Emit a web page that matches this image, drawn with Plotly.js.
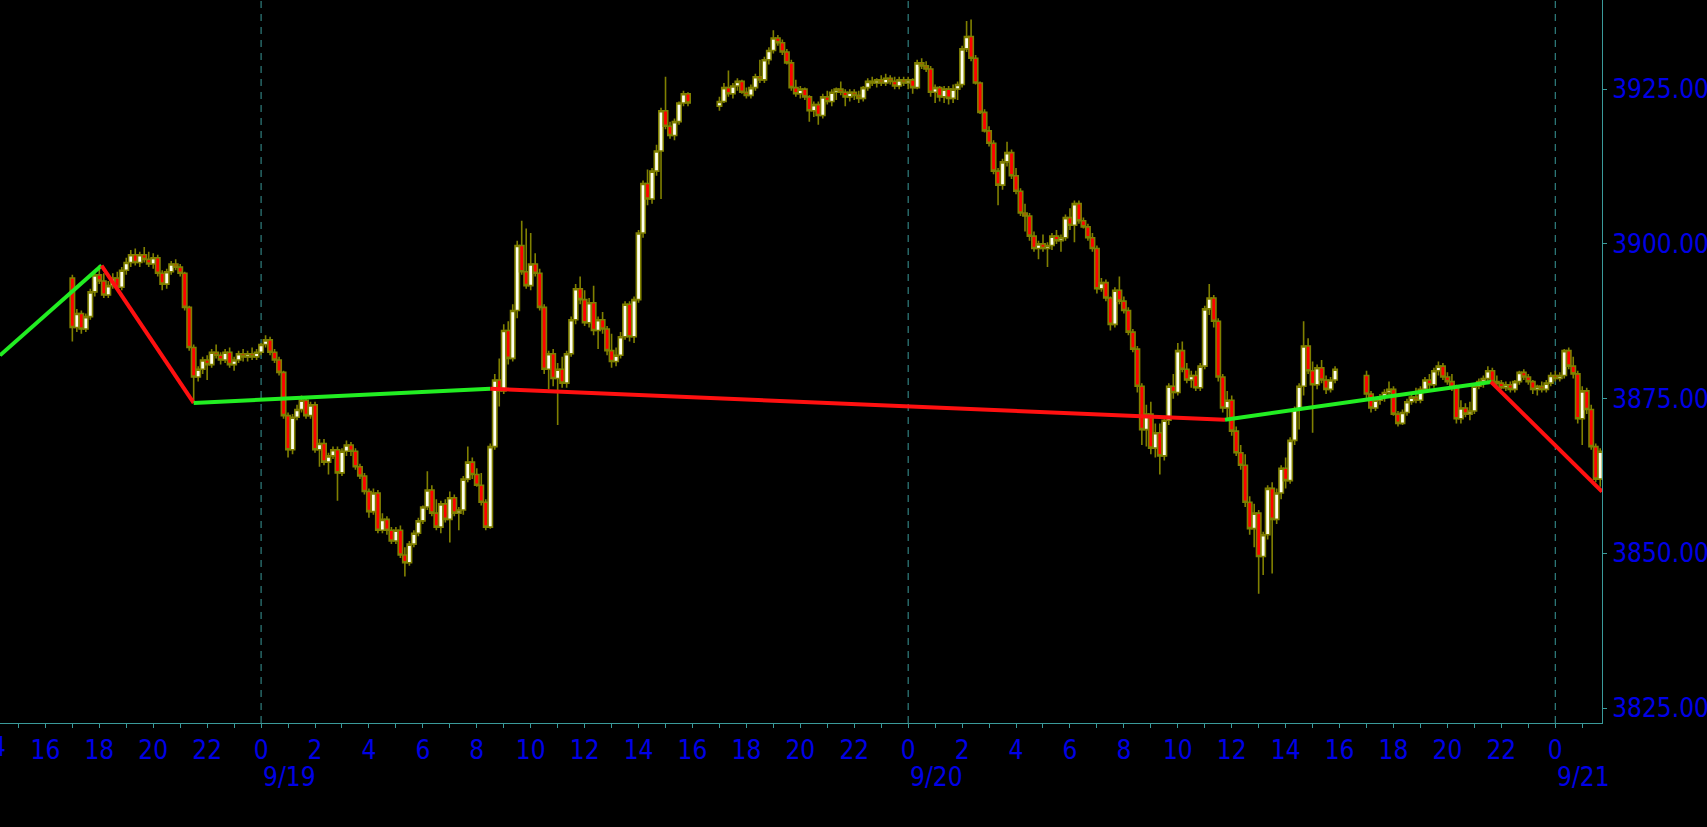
<!DOCTYPE html>
<html>
<head>
<meta charset="utf-8">
<script src="https://cdn.plot.ly/plotly-3.0.1.min.js"></script>
<style>
html,body{margin:0;padding:0;background:#000;overflow:hidden;}
#chart{width:1707px;height:827px;}
</style>
</head>
<body>
<div id="chart"></div>
<script>
// ---- data: 10-minute bars, three trading sessions ----
const sessionStarts = ["2022-09-18T17:00:00Z", "2022-09-19T17:00:00Z", "2022-09-20T17:00:00Z"];

const open1 = [3894.5,3886.5,3888.75,3886.25,3888.25,3892.25,3895.0,3894.0,3891.75,3893.25,3894.5,3893.0,3895.75,3897.0,3898.25,3897.0,3898.25,3897.5,3896.75,3897.75,3895.25,3893.5,3895.5,3896.75,3896.25,3895.25,3889.75,3883.25,3878.5,3879.75,3881.25,3880.5,3882.5,3882.0,3881.25,3882.5,3880.5,3881.25,3882.25,3881.75,3882.25,3881.75,
3882.5,3883.75,3884.5,3882.5,3881.25,3879.25,3872.25,3866.75,3872.0,3873.25,
3874.75,3872.25,3874.0,3866.75,3867.75,3864.75,3865.75,3866.75,3863.0,3866.5,
3867.5,3866.5,3864.0,3862.5,3860.0,3856.75,3859.75,3853.75,3855.5,3853.75,
3852.0,3853.75,3849.75,3848.5,3851.5,3853.25,3855.25,3857.5,3860.25,3856.5,
3854.25,3858.0,3855.5,3859.0,3856.5,3857.0,3862.0,3864.75,3862.75,3861.0,
3858.25,3854.25,3867.25,3878.0,3876.25,3886.0,3881.5,3889.25,3899.75,3895.5,
3893.25,3896.75,3895.25,3889.75,3879.75,3882.25,3878.25,3879.75,3877.5,3882.25,
3887.75,3892.75,3891.0,3887.25,3890.5,3886.0,3887.75,3886.25,3882.75,3881.0,
3882.0,3885.0,3890.25,3885.0,3891.0,3901.75,3909.75,3907.25,3911.75,3915.0,
3921.5,3919.0,3917.5,3919.75,3922.75,3924.25];
const high1 = [3895.0,3889.5,3889.25,3888.75,3892.75,3895.5,3896.5,3895.25,3894.0,3895.25,3895.5,3896.25,3897.75,3899.0,3899.25,3898.75,3899.5,3898.75,3898.5,3898.25,3895.75,3896.0,3897.25,3897.5,3896.75,3895.5,3890.0,3883.75,3880.25,3881.75,3882.0,3883.0,3883.75,3882.5,3883.0,3883.25,3881.75,3882.75,3883.0,3882.75,3883.25,3883.0,
3884.0,3885.25,3885.0,3883.0,3881.75,3879.5,3872.75,3872.5,3874.0,3875.5,
3875.25,3874.5,3874.5,3868.5,3868.5,3866.25,3867.25,3867.25,3867.0,3868.25,
3868.0,3867.0,3864.5,3863.0,3860.5,3860.5,3860.25,3856.5,3856.0,3854.25,
3854.25,3854.5,3851.0,3852.0,3853.75,3855.75,3857.75,3863.25,3861.0,3858.75,
3858.5,3858.75,3860.0,3859.5,3857.5,3862.5,3867.25,3865.5,3863.75,3863.0,
3858.75,3867.75,3879.0,3881.5,3887.0,3887.5,3890.25,3900.5,3903.75,3902.5,
3901.75,3898.5,3896.0,3890.25,3882.75,3883.0,3880.75,3881.75,3882.75,3888.25,
3893.5,3894.75,3892.5,3891.25,3893.25,3888.25,3889.0,3886.75,3885.5,3883.25,
3885.75,3890.75,3890.75,3891.5,3902.25,3910.25,3912.0,3912.25,3916.0,3922.0,
3927.0,3919.75,3920.25,3923.0,3924.75,3924.5];
const low1 = [3884.25,3885.75,3885.5,3885.75,3887.75,3891.5,3893.5,3891.25,3891.25,3892.75,3892.5,3892.5,3895.0,3896.25,3896.5,3896.25,3897.0,3896.25,3896.0,3894.75,3892.5,3892.75,3895.0,3895.75,3894.75,3889.25,3882.75,3874.25,3877.75,3879.0,3878.0,3880.0,3881.5,3880.5,3880.75,3880.0,3879.5,3880.75,3881.0,3881.0,3881.25,3881.25,
3882.0,3883.25,3882.0,3880.75,3878.75,3871.75,3865.5,3866.0,3871.5,3872.75,
3871.75,3871.75,3866.25,3864.0,3864.25,3862.75,3865.25,3858.5,3862.5,3865.75,
3865.75,3863.5,3862.0,3859.5,3855.75,3856.25,3853.25,3853.25,3853.0,3851.5,
3851.5,3849.25,3846.25,3848.0,3851.0,3852.75,3854.75,3857.0,3856.0,3853.75,
3853.25,3855.0,3851.75,3856.0,3853.75,3856.25,3861.5,3862.0,3860.75,3857.75,
3853.75,3854.0,3866.75,3873.75,3875.75,3880.5,3881.0,3888.0,3895.0,3892.75,
3892.5,3894.75,3889.25,3879.0,3876.5,3877.0,3870.75,3876.75,3876.75,3881.75,
3887.0,3890.25,3886.75,3886.5,3885.25,3883.0,3885.5,3882.0,3880.0,3880.25,
3881.5,3884.5,3884.25,3884.0,3890.5,3901.0,3906.25,3906.5,3911.0,3907.25,
3918.5,3917.0,3916.75,3919.25,3922.25,3922.25];
const close1 = [3886.5,3888.75,3886.25,3888.25,3892.25,3895.0,3894.0,3891.75,3893.25,3894.5,3893.0,3895.75,3897.0,3898.25,3897.0,3898.25,3897.5,3896.75,3897.75,3895.25,3893.5,3895.5,3896.75,3896.25,3895.25,3889.75,3883.25,3878.5,3879.75,3881.25,3880.5,3882.5,3882.0,3881.25,3882.5,3880.5,3881.25,3882.25,3881.75,3882.25,3881.75,3882.5,
3883.75,3884.5,3882.5,3881.25,3879.25,3872.25,3866.75,3872.0,3873.25,3874.75,
3872.25,3874.0,3866.75,3867.75,3864.75,3865.75,3866.75,3863.0,3866.5,3867.5,
3866.5,3864.0,3862.5,3860.0,3856.75,3859.75,3853.75,3855.5,3853.75,3852.0,
3853.75,3849.75,3848.5,3851.5,3853.25,3855.25,3857.5,3860.25,3856.5,3854.25,
3858.0,3855.5,3859.0,3856.5,3857.0,3862.0,3864.75,3862.75,3861.0,3858.25,
3854.25,3867.25,3878.0,3876.25,3886.0,3881.5,3889.25,3899.75,3895.5,3893.25,
3896.75,3895.25,3889.75,3879.75,3882.25,3878.25,3879.75,3877.5,3882.25,3887.75,
3892.75,3891.0,3887.25,3890.5,3886.0,3887.75,3886.25,3882.75,3881.0,3882.0,
3885.0,3890.25,3885.0,3891.0,3901.75,3909.75,3907.25,3911.75,3915.0,3921.5,
3919.0,3917.5,3919.75,3922.75,3924.25,3922.75];

const open2 = [3922.25,3923.0,3925.25,3924.25,3925.5,3926.25,3924.5,3924.0,3925.25,3927.0,3926.5,3929.75,3931.25,3933.25,3932.5,3931.0,3929.25,3925.25,3924.25,3925.0,3923.75,3921.5,3922.5,3920.75,3923.75,3923.0,3924.5,3925.0,3924.5,3923.75,3924.5,3924.0,3923.5,3925.25,3926.25,3926.0,3926.5,3926.0,3926.75,3926.25,3925.5,3926.5,
3926.0,3926.5,3925.25,3929.25,3928.75,3928.25,3924.5,3925.25,3923.75,3925.0,
3923.5,3925.0,3925.75,3931.5,3933.5,3930.0,3926.0,3921.25,3918.25,3916.25,
3911.75,3909.5,3913.25,3914.75,3911.0,3908.5,3905.0,3904.5,3901.25,3899.25,
3900.0,3899.25,3899.75,3901.25,3900.5,3901.0,3904.25,3903.0,3906.5,3903.75,
3902.75,3901.0,3899.25,3892.75,3893.75,3891.25,3887.0,3892.5,3890.75,3889.25,
3885.75,3883.0,3877.0,3870.0,3872.5,3867.0,3869.5,3865.75,3871.5,3877.0,
3876.0,3882.75,3879.75,3878.0,3878.75,3876.75,3880.25,3889.5,3891.25,3887.5,
3878.5,3873.5,3874.75,3869.75,3866.25,3864.25,3858.25,3854.0,3856.5,3849.5,
3853.0,3860.5,3855.5,3859.75,3863.75,3861.75,3868.25,3873.25,3877.0,3883.5,
3879.5,3877.25,3880.0,3878.0,3876.5,3878.0];
const high2 = [3923.75,3926.0,3928.0,3926.0,3926.75,3926.5,3925.25,3925.75,3927.5,3929.75,3930.25,3931.75,3934.5,3933.75,3933.0,3931.5,3929.75,3926.5,3925.5,3925.25,3924.0,3923.0,3923.0,3924.25,3924.75,3925.0,3925.25,3926.25,3925.0,3925.0,3925.0,3924.75,3925.5,3926.75,3927.0,3926.75,3927.25,3927.5,3927.25,3927.0,3927.0,3927.0,
3927.0,3926.75,3929.75,3930.0,3929.5,3928.75,3925.75,3925.5,3925.5,3925.5,
3925.75,3926.25,3932.0,3936.0,3936.25,3930.5,3926.25,3921.75,3919.0,3916.75,
3912.25,3913.75,3916.5,3915.25,3912.25,3909.0,3906.5,3905.0,3902.0,3900.5,
3901.5,3900.25,3901.75,3902.25,3901.5,3904.75,3905.75,3907.0,3907.0,3904.25,
3903.25,3901.75,3899.75,3894.5,3894.25,3891.5,3893.0,3894.75,3891.5,3889.75,
3886.25,3883.5,3877.5,3874.0,3874.5,3871.0,3871.0,3872.25,3877.5,3879.0,
3884.0,3884.25,3880.75,3879.5,3879.5,3880.75,3890.0,3893.5,3891.75,3888.0,
3879.0,3876.25,3875.5,3870.5,3867.5,3866.0,3859.25,3858.0,3857.0,3853.5,
3861.0,3861.5,3860.5,3864.25,3865.5,3868.75,3873.75,3877.5,3887.5,3884.75,
3881.0,3880.5,3881.25,3878.75,3878.5,3880.25];
const low2 = [3921.5,3922.75,3923.75,3923.5,3924.75,3924.25,3923.5,3923.5,3924.75,3926.0,3926.0,3929.0,3930.75,3932.0,3930.5,3929.0,3924.75,3923.75,3923.5,3923.25,3919.75,3920.5,3919.25,3920.25,3922.5,3922.25,3923.25,3924.0,3922.25,3923.0,3923.25,3922.75,3923.0,3924.75,3925.5,3925.25,3925.5,3925.5,3925.75,3925.0,3925.0,3925.5,
3925.0,3924.25,3925.0,3928.25,3927.75,3923.75,3922.75,3923.0,3922.75,3922.5,
3922.75,3923.25,3925.25,3931.0,3929.5,3925.75,3921.0,3918.0,3915.75,3911.25,
3906.25,3908.75,3912.5,3910.5,3908.0,3904.5,3902.0,3900.5,3898.75,3897.5,
3898.75,3896.25,3899.0,3900.0,3898.75,3900.5,3902.25,3900.25,3903.25,3902.5,
3900.5,3898.75,3892.0,3892.25,3890.75,3886.0,3886.5,3890.25,3888.75,3885.25,
3882.5,3876.0,3867.5,3867.25,3866.0,3865.5,3862.75,3865.0,3870.75,3875.0,
3875.5,3879.25,3877.5,3876.75,3876.25,3876.25,3879.75,3888.5,3886.5,3877.75,
3872.75,3871.5,3869.0,3865.75,3863.5,3857.5,3853.0,3851.0,3843.5,3846.5,
3852.25,3846.75,3854.75,3858.75,3860.5,3861.25,3867.5,3870.0,3875.5,3879.0,
3869.5,3876.5,3877.5,3875.75,3876.0,3877.5];
const close2 = [3923.0,3925.25,3924.25,3925.5,3926.25,3924.5,3924.0,3925.25,3927.0,3926.5,3929.75,3931.25,3933.25,3932.5,3931.0,3929.25,3925.25,3924.25,3925.0,3923.75,3921.5,3922.5,3920.75,3923.75,3923.0,3924.5,3925.0,3924.5,3923.75,3924.5,3924.0,3923.5,3925.25,3926.25,3926.0,3926.5,3926.0,3926.75,3926.25,3925.5,3926.5,3926.0,
3926.5,3925.25,3929.25,3928.75,3928.25,3924.5,3925.25,3923.75,3925.0,3923.5,
3925.0,3925.75,3931.5,3933.5,3930.0,3926.0,3921.25,3918.25,3916.25,3911.75,
3909.5,3913.25,3914.75,3911.0,3908.5,3905.0,3904.5,3901.25,3899.25,3900.0,
3899.25,3899.75,3901.25,3900.5,3901.0,3904.25,3903.0,3906.5,3903.75,3902.75,
3901.0,3899.25,3892.75,3893.75,3891.25,3887.0,3892.5,3890.75,3889.25,3885.75,
3883.0,3877.0,3870.0,3872.5,3867.0,3869.5,3865.75,3871.5,3877.0,3876.0,
3882.75,3879.75,3878.0,3878.75,3876.75,3880.25,3889.5,3891.25,3887.5,3878.5,
3873.5,3874.75,3869.75,3866.25,3864.25,3858.25,3854.0,3856.5,3849.5,3853.0,
3860.5,3855.5,3859.75,3863.75,3861.75,3868.25,3873.25,3877.0,3883.5,3879.5,
3877.25,3880.0,3878.0,3876.5,3878.0,3879.75];

const open3 = [3878.75,3875.75,3873.5,3874.75,3875.25,3876.0,3876.5,3872.5,3871.0,3872.75,3874.5,3875.25,3874.75,3876.5,3878.0,3877.25,3879.5,3880.25,3878.5,3877.75,3876.75,3871.75,3873.5,3872.5,3873.0,3877.0,3877.75,3878.25,3879.5,3877.75,3877.5,3876.75,3877.25,3876.5,3877.75,3879.25,3878.5,3877.75,3876.5,3877.0,3876.5,3877.5,3878.75,3878.25,3878.75,3882.75,3880.25,3879.0,3871.75,3876.25,3873.25,3867.25,3862.0];
const high3 = [3879.5,3876.25,3875.0,3875.75,3876.5,3877.75,3877.0,3873.0,3873.25,3875.0,3875.75,3876.75,3877.0,3878.5,3879.0,3880.0,3881.0,3880.75,3879.25,3879.0,3877.25,3874.75,3874.25,3874.5,3877.5,3878.25,3878.75,3880.25,3880.0,3878.75,3878.0,3877.75,3877.75,3878.0,3879.5,3879.75,3879.0,3878.0,3877.25,3877.75,3878.0,3879.25,3879.5,3879.25,3883.0,3883.25,3881.75,3879.5,3877.0,3876.75,3874.0,3867.75,3867.0];
const low3 = [3874.75,3872.75,3873.0,3874.0,3874.5,3875.25,3872.25,3870.5,3870.75,3872.25,3874.0,3874.25,3874.25,3876.0,3876.25,3876.75,3878.75,3878.0,3877.25,3876.25,3871.0,3871.0,3872.0,3871.5,3872.5,3876.5,3876.75,3877.75,3877.25,3877.0,3876.5,3876.25,3876.0,3876.0,3877.25,3878.0,3877.25,3875.75,3875.5,3876.0,3876.0,3877.0,3877.75,3877.75,3878.25,3879.75,3878.25,3871.0,3867.5,3872.5,3866.75,3861.5,3860.75];
const close3 = [3875.75,3873.5,3874.75,3875.25,3876.0,3876.5,3872.5,3871.0,3872.75,3874.5,3875.25,3874.75,3876.5,3878.0,3877.25,3879.5,3880.25,3878.5,3877.75,3876.75,3871.75,3873.5,3872.5,3873.0,3877.0,3877.75,3878.25,3879.5,3877.75,3877.5,3876.75,3877.25,3876.5,3877.75,3879.25,3878.5,3877.75,3876.5,3877.0,3876.5,3877.5,3878.75,3878.25,3878.75,3882.75,3880.25,3879.0,3871.75,3876.25,3873.25,3867.25,3862.0,3866.5];

// zigzag pivots
const zigTime  = ["2022-09-18 14:19","2022-09-18 18:05","2022-09-18 21:30","2022-09-19 08:30","2022-09-20 11:45","2022-09-20 21:37","2022-09-21 01:44"];
const zigValue = [3882.0, 3896.5, 3874.3, 3876.6, 3871.6, 3877.7, 3860.0];

// axis labels
const yTickValues = [3825, 3850, 3875, 3900, 3925];
const yTickLabels = ["3825.000", "3850.000", "3875.000", "3900.000", "3925.000"];
const dayTimes  = ["2022-09-19 00:00", "2022-09-20 00:00", "2022-09-21 00:00"];
const dayLabels = ["9/19", "9/20", "9/21"];
const edgeHourLabel = "14";   // 14:00 on 9/18, just left of the visible range
const xRange = ["2022-09-18 14:19", "2022-09-21 01:44"];
const yRange = [3822.6, 3939.4];

// ---- build ----
function pad(n){ return (n < 10 ? "0" : "") + n; }
function fmt(ms){
  const d = new Date(ms);
  return d.getUTCFullYear() + "-" + pad(d.getUTCMonth()+1) + "-" + pad(d.getUTCDate()) + " " + pad(d.getUTCHours()) + ":" + pad(d.getUTCMinutes());
}
const opens = [open1, open2, open3], highs = [high1, high2, high3], lows = [low1, low2, low3], closes = [close1, close2, close3];
const X = [], O = [], H = [], L = [], C = [];
sessionStarts.forEach((s, si) => {
  const t0 = Date.parse(s);
  for (let i = 0; i < opens[si].length; i++) {
    X.push(fmt(t0 + i * 600000));
    O.push(opens[si][i]); H.push(highs[si][i]); L.push(lows[si][i]); C.push(closes[si][i]);
  }
});

const OLIVE = "#808000", TEAL = "#3a9a9a", BLUE = "#0000e6";
const FONT = "Liberation Sans Narrow, DejaVu Sans Condensed, Arial Narrow, sans-serif";

const traces = [{
  type: "candlestick", x: X, open: O, high: H, low: L, close: C,
  increasing: {line: {color: OLIVE, width: 1.6}, fillcolor: "#fffff0"},
  decreasing: {line: {color: OLIVE, width: 1.6}, fillcolor: "#ff0000"},
  whiskerwidth: 0, hoverinfo: "skip", showlegend: false
}];
for (let i = 0; i < zigTime.length - 1; i++) {
  traces.push({
    type: "scatter", mode: "lines", x: [zigTime[i], zigTime[i+1]], y: [zigValue[i], zigValue[i+1]],
    line: {color: zigValue[i+1] > zigValue[i] ? "#22ee22" : "#ff1010", width: 4},
    hoverinfo: "skip", showlegend: false
  });
}

// x ticks every 2 hours, labelled with the hour
const tickVals = [], tickText = [];
for (let ms = Date.parse("2022-09-18T16:00:00Z"); ms <= Date.parse("2022-09-21T00:00:00Z"); ms += 7200000) {
  tickVals.push(fmt(ms)); tickText.push(String(new Date(ms).getUTCHours()));
}

// where the edge label sits, in paper units (tick 14:00 lies left of the range)
const rangeMs = Date.parse(xRange[1].replace(" ", "T") + ":00Z") - Date.parse(xRange[0].replace(" ", "T") + ":00Z");
const edgeX = (Date.parse("2022-09-18T14:00:00Z") - Date.parse(xRange[0].replace(" ", "T") + ":00Z")) / rangeMs;

const annotations = dayTimes.map((t, i) => ({
  xref: "x", yref: "paper", x: t, y: -0.0747, xanchor: "left", yanchor: "middle",
  text: dayLabels[i], showarrow: false, font: {family: FONT, size: 26, color: BLUE}
}));
annotations.push({
  xref: "paper", yref: "paper", x: edgeX, y: -0.0332, xanchor: "center", yanchor: "middle",
  text: edgeHourLabel, showarrow: false, font: {family: FONT, size: 26, color: BLUE}
});

const layout = {
  width: 1707, height: 827,
  paper_bgcolor: "#000", plot_bgcolor: "#000",
  margin: {l: 0, r: 105, t: 0, b: 104, pad: 0},
  showlegend: false,
  boxgap: 0.02, boxgroupgap: 0,
  xaxis: {
    type: "date", range: xRange, rangeslider: {visible: false},
    showgrid: false, zeroline: false, showline: true, linecolor: TEAL, linewidth: 1,
    tickmode: "array", tickvals: tickVals, ticktext: tickText,
    ticks: "outside", ticklen: 4, tickcolor: TEAL, tickwidth: 1,
    tickfont: {family: FONT, size: 26, color: BLUE},
    minor: {tickmode: "linear", tick0: "2022-09-18 00:00", dtick: 3600000, ticks: "outside", ticklen: 4, tickcolor: TEAL, showgrid: false},
    fixedrange: true
  },
  yaxis: {
    side: "right", range: yRange,
    showgrid: false, zeroline: false, showline: true, linecolor: TEAL, linewidth: 1,
    tickmode: "array", tickvals: yTickValues, ticktext: yTickLabels,
    ticks: "outside", ticklen: 4, tickcolor: TEAL,
    tickfont: {family: FONT, size: 26, color: BLUE},
    fixedrange: true
  },
  shapes: dayTimes.map(t => ({
    type: "line", xref: "x", yref: "paper", x0: t, x1: t, y0: 0, y1: 1, layer: "below",
    line: {color: TEAL, width: 1, dash: "7px,6px"}
  })),
  annotations: annotations
};

Plotly.newPlot("chart", traces, layout, {displayModeBar: false, staticPlot: true});
</script>
</body>
</html>
